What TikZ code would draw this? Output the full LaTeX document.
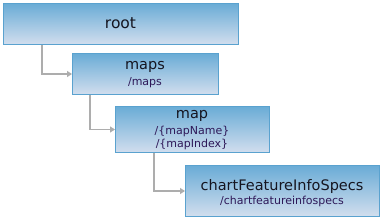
\documentclass[tikz,border=0pt]{standalone}
\usepackage{fontspec}
\setmainfont{DejaVu Sans}
\usetikzlibrary{arrows.meta}
\definecolor{boxtop}{HTML}{6AACD6}
\definecolor{boxbot}{HTML}{D2DEEE}
\definecolor{boxline}{HTML}{5AA2CF}
\definecolor{conncol}{HTML}{ADADAD}
\definecolor{maintxt}{HTML}{151520}
\definecolor{subtxt}{HTML}{2E1858}
\tikzset{
  box/.style={draw=boxline, line width=1pt, top color=boxtop, bottom color=boxbot, rectangle, anchor=north west, inner sep=0pt},
  maintext/.style={text=maintxt, font=\fontsize{14.5}{16}\selectfont, inner sep=0pt},
  subtext/.style={text=subtxt, font=\fontsize{11}{12}\selectfont, inner sep=0pt},
  conn/.style={draw=conncol, line width=1.6pt, -{Triangle[length=5pt,width=6pt]}}
}
\begin{document}
\begin{tikzpicture}[x=1pt,y=1pt]
\useasboundingbox (0,0) rectangle (382,-219);
\node[box, minimum width=235pt, minimum height=41pt] (root) at (3,-3) {};
\node[box, minimum width=146pt, minimum height=41pt] (maps) at (72,-53) {};
\node[box, minimum width=154pt, minimum height=46pt] (map) at (115,-106) {};
\node[box, minimum width=194pt, minimum height=51pt] (chart) at (185,-165) {};
\node[maintext, font=\fontsize{15.5}{17}\selectfont] (rootlbl) at (120.5,-23) {root};
\node[maintext] (mapslbl) at (145,-67) {maps};
\node[subtext] (mapssub) at (145,-82.5) {/maps};
\node[maintext] (maplbl) at (192,-116) {map};
\node[subtext] (mapsub1) at (192,-131) {/\{mapName\}};
\node[subtext] (mapsub2) at (192,-144) {/\{mapIndex\}};
\node[maintext] (chartlbl) at (282,-186) {chartFeatureInfoSpecs};
\node[subtext] (chartsub) at (282,-201) {/chartfeatureinfospecs};
\coordinate (c1) at ([xshift=39pt]root.south west);
\coordinate (c2) at ([xshift=18pt]maps.south west);
\coordinate (c3) at ([xshift=39pt]map.south west);
\draw[conn] (c1) |- (maps.west);
\draw[conn] (c2) |- (map.west);
\draw[conn] (c3) |- (chart.west);
\end{tikzpicture}
\end{document}
